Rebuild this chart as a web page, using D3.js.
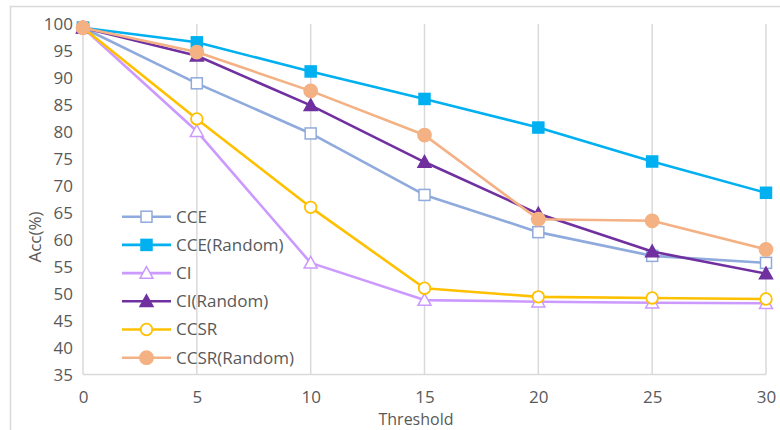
<!DOCTYPE html>
<html><head><meta charset="utf-8">
<script src="https://cdn.jsdelivr.net/npm/d3@7"></script>
<style>body{margin:0;background:#fff;}svg{display:block;font-family:"Open Sans",sans-serif;}</style>
</head><body><svg id="c" width="780" height="430"></svg>
<script>
const thresholds = [0, 5, 10, 15, 20, 25, 30];
const yTicks = [35, 40, 45, 50, 55, 60, 65, 70, 75, 80, 85, 90, 95, 100];
const seriesNames = ["CCE", "CCE(Random)", "CI", "CI(Random)", "CCSR", "CCSR(Random)"];
const cce        = [99.3, 89.0, 79.7, 68.3, 61.4, 57.0, 55.7];
const cceRandom  = [99.3, 96.6, 91.2, 86.1, 80.8, 74.5, 68.7];
const ci         = [99.3, 80.1, 55.7, 48.8, 48.5, 48.3, 48.2];
const ciRandom   = [99.3, 94.1, 84.9, 74.4, 64.8, 57.8, 53.7];
const ccsr       = [99.3, 82.4, 66.0, 51.0, 49.4, 49.2, 49.0];
const ccsrRandom = [99.3, 94.8, 87.6, 79.4, 63.8, 63.5, 58.2];
const seriesValues = [cce, cceRandom, ci, ciRandom, ccsr, ccsrRandom];

const colors  = ["#8FAADC", "#00B0F0", "#CC99FF", "#7030A0", "#FFC000", "#F4B183"];
const shapes  = ["square", "square", "triangle", "triangle", "circle", "circle"];
const filled  = [false, true, false, true, false, true];

const svg = d3.select("#c");
const pL = 83, pR = 766, pT = 24, pB = 374.5;
const x = d3.scaleLinear().domain([0, 30]).range([pL, pR]);
const y = d3.scaleLinear().domain([35, 100]).range([pB, pT]);
const textCol = "#595959", gridCol = "#d9d9d9";

// outer chart border
svg.append("rect").attr("x", 10.5).attr("y", 6.5).attr("width", 780).attr("height", 440)
  .attr("fill", "none").attr("stroke", gridCol).attr("stroke-width", 1.5);

// vertical gridlines
svg.append("g").selectAll("line").data(thresholds).join("line")
  .attr("x1", d => x(d)).attr("x2", d => x(d)).attr("y1", pT).attr("y2", pB)
  .attr("stroke", gridCol).attr("stroke-width", 1.5);
// bottom axis line
svg.append("line").attr("x1", pL).attr("x2", pR).attr("y1", pB).attr("y2", pB)
  .attr("stroke", gridCol).attr("stroke-width", 1.5);

// y tick labels
const yAxis = d3.axisLeft(y).tickValues(yTicks).tickSize(0).tickPadding(0);
const gy = svg.append("g").attr("transform", `translate(${pL - 10},0)`).call(yAxis);
gy.select(".domain").remove();
gy.selectAll("text").attr("fill", textCol).attr("font-size", 17).attr("font-family", "Open Sans").attr("dy", "0.35em");

// x tick labels
const xAxis = d3.axisBottom(x).tickValues(thresholds).tickSize(0).tickPadding(0);
const gx = svg.append("g").attr("transform", `translate(0,403)`).call(xAxis);
gx.select(".domain").remove();
gx.selectAll("text").attr("fill", textCol).attr("font-size", 17).attr("font-family", "Open Sans").attr("dy", "0");

// axis titles
svg.append("text").attr("x", 416).attr("y", 425.3).attr("text-anchor", "middle")
  .attr("fill", textCol).attr("font-size", 16).text("Threshold");
svg.append("text").attr("transform", "translate(41,237) rotate(-90)").attr("text-anchor", "middle")
  .attr("fill", textCol).attr("font-size", 17).text("Acc(%)");

function marker(g, shape, color, fill, cx, cy) {
  const f = fill ? color : "#fff";
  if (shape === "square") {
    g.append("rect").attr("x", cx - 5.5).attr("y", cy - 5.5).attr("width", 11).attr("height", 11)
      .attr("fill", f).attr("stroke", color).attr("stroke-width", 1.5);
  } else if (shape === "circle") {
    g.append("circle").attr("cx", cx).attr("cy", cy).attr("r", fill ? 6.5 : 5.8)
      .attr("fill", f).attr("stroke", color).attr("stroke-width", 1.8);
  } else {
    const s = 6.5;
    g.append("path").attr("d", `M${cx},${cy - s}L${cx + s},${cy + s * 0.8}L${cx - s},${cy + s * 0.8}Z`)
      .attr("fill", f).attr("stroke", color).attr("stroke-width", 1.5);
  }
}

const line = d3.line().x((d, i) => x(thresholds[i])).y(d => y(d));
seriesValues.forEach((vals, k) => {
  const g = svg.append("g");
  g.append("path").attr("d", line(vals)).attr("fill", "none")
    .attr("stroke", colors[k]).attr("stroke-width", 2.6).attr("stroke-linejoin", "round");
  vals.forEach((v, i) => marker(g, shapes[k], colors[k], filled[k], x(thresholds[i]), y(v)));
});

// legend
const lg = svg.append("g");
seriesNames.forEach((name, k) => {
  const ly = 216.7 + k * 28.2;
  lg.append("line").attr("x1", 122).attr("x2", 171).attr("y1", ly).attr("y2", ly)
    .attr("stroke", colors[k]).attr("stroke-width", 2.6);
  marker(lg, shapes[k], colors[k], filled[k], 146.5, ly);
  lg.append("text").attr("x", 176).attr("y", ly).attr("dy", "0.35em")
    .attr("fill", textCol).attr("font-size", 17).text(name);
});
</script></body></html>
